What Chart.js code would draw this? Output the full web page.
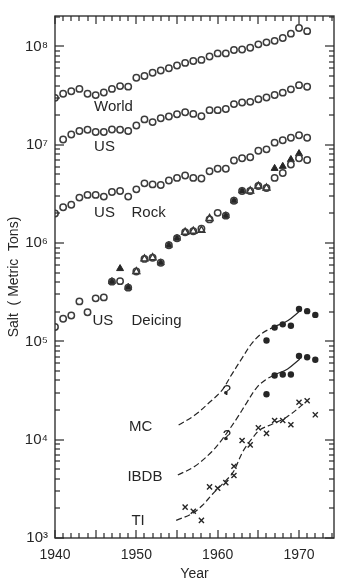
<!DOCTYPE html>
<html>
<head>
<meta charset="utf-8">
<title>Salt use</title>
<script src="https://cdn.jsdelivr.net/npm/chart.js@4"></script>
<style>
  body { margin: 0; background: #fff; }
  #wrap { width: 344px; height: 586px; }
</style>
</head>
<body>
<div id="wrap"><canvas id="saltChart" width="344" height="586"></canvas></div>
<script>
// yearly series, metric tons
const years = [1940, 1941, 1942, 1943, 1944, 1945, 1946, 1947, 1948, 1949,
  1950, 1951, 1952, 1953, 1954, 1955, 1956, 1957, 1958, 1959,
  1960, 1961, 1962, 1963, 1964, 1965, 1966, 1967, 1968, 1969, 1970, 1971];

const worldSalt = [3.0e7, 3.3e7, 3.5e7, 3.7e7, 3.3e7, 3.2e7, 3.4e7, 3.7e7, 3.95e7, 3.9e7,
  4.8e7, 5.0e7, 5.4e7, 5.7e7, 6.0e7, 6.4e7, 6.8e7, 7.1e7, 7.3e7, 7.9e7,
  8.5e7, 8.5e7, 9.2e7, 9.3e7, 9.7e7, 1.05e8, 1.1e8, 1.14e8, 1.22e8, 1.35e8, 1.54e8, 1.43e8];

const usYears = years.slice(1);
const usSalt = [1.13e7, 1.27e7, 1.38e7, 1.42e7, 1.35e7, 1.35e7, 1.43e7, 1.42e7, 1.38e7,
  1.57e7, 1.81e7, 1.70e7, 1.86e7, 1.94e7, 2.04e7, 2.14e7, 2.06e7, 1.95e7, 2.25e7,
  2.25e7, 2.31e7, 2.59e7, 2.69e7, 2.73e7, 2.90e7, 3.02e7, 3.21e7, 3.39e7, 3.66e7, 4.04e7, 3.89e7];

const rockSalt = [2.0e6, 2.31e6, 2.45e6, 2.9e6, 3.09e6, 3.09e6, 2.97e6, 3.31e6, 3.39e6, 2.97e6,
  3.52e6, 4.05e6, 3.95e6, 3.89e6, 4.33e6, 4.6e6, 4.86e6, 4.6e6, 4.54e6, 5.37e6,
  5.71e6, 5.71e6, 6.92e6, 7.3e6, 7.46e6, 8.7e6, 8.98e6, 1.05e7, 1.11e7, 1.18e7, 1.25e7, 1.18e7];

const deicingSalt = [1.40e5, 1.70e5, 1.83e5, 2.55e5, 1.98e5, 2.74e5, 2.80e5, 4.05e5, 4.1e5, 3.52e5,
  5.13e5, 6.9e5, 7.1e5, 6.3e5, 9.5e5, 1.12e6, 1.29e6, 1.32e6, 1.40e6, 1.74e6,
  2.03e6, 1.9e6, 2.69e6, 3.39e6, 3.39e6, 3.8e6, 3.63e6, 4.6e6, 5.16e6, 6.3e6, 7.3e6, 7.0e6];

// other deicing estimates (triangles)
const deicingFilledYears = [1947, 1948, 1949, 1953, 1954, 1955, 1961, 1962, 1963, 1967, 1968, 1969, 1970];
const deicingFilled = [4.07e5, 5.5e5, 3.55e5, 6.3e5, 9.5e5, 1.12e6, 1.9e6, 2.69e6, 3.39e6, 5.75e6, 6.03e6, 7.08e6, 8.13e6];
const deicingOpenYears = [1950, 1951, 1952, 1956, 1957, 1958, 1959, 1964, 1965, 1966];
const deicingOpen = [5.13e5, 6.9e5, 7.1e5, 1.29e6, 1.32e6, 1.35e6, 1.78e6, 3.39e6, 3.8e6, 3.63e6];

// regional deicing
const mcYears = [1961, 1966, 1967, 1968, 1969, 1970, 1971, 1972];
const mcSalt = [3.0e4, 1.02e5, 1.38e5, 1.49e5, 1.44e5, 2.14e5, 2.03e5, 1.86e5];
const ibdbYears = [1961, 1966, 1967, 1968, 1969, 1970, 1971, 1972];
const ibdbSalt = [1.03e4, 2.9e4, 4.5e4, 4.6e4, 4.6e4, 7.1e4, 6.9e4, 6.5e4];
const tiYears = [1956, 1957, 1958, 1959, 1960, 1961, 1962, 1962, 1963, 1964, 1965, 1966, 1967, 1968, 1969, 1970, 1971, 1972];
const tiSalt = [2.06e3, 1.87e3, 1.51e3, 3.31e3, 3.21e3, 3.66e3, 4.33e3, 5.37e3, 9.8e3, 8.85e3,
  1.32e4, 1.16e4, 1.57e4, 1.57e4, 1.42e4, 2.40e4, 2.49e4, 1.79e4];

// hand-drawn trend curves
const mcCurveYears = [1955.2, 1957.2, 1959, 1960.5, 1961.7, 1963, 1964.2, 1965.4, 1967, 1968.6, 1970.1];
const mcCurve = [1.41e4, 1.78e4, 2.40e4, 3.16e4, 4.57e4, 6.76e4, 9.55e4, 1.20e5, 1.41e5, 1.62e5, 2.04e5];
const ibdbCurveYears = [1955.1, 1957.2, 1959.3, 1960.6, 1962.3, 1963.6, 1964.8, 1965.9, 1967, 1968.6, 1970.1];
const ibdbCurve = [4.37e3, 5.37e3, 7.59e3, 1.02e4, 1.62e4, 2.40e4, 3.39e4, 4.07e4, 4.57e4, 5.25e4, 6.61e4];
const tiCurveYears = [1954.9, 1956.9, 1958.1, 1959.4, 1960.6, 1961.9, 1963.1, 1964.2, 1965.2, 1966.8, 1968.5, 1970.5];
const tiCurve = [1.51e3, 1.78e3, 2.14e3, 2.82e3, 3.55e3, 4.68e3, 7.59e3, 1.02e4, 1.26e4, 1.45e4, 1.70e4, 2.29e4];

const xTickValues = [1940, 1950, 1960, 1970];
const yTickValues = [1e3, 1e4, 1e5, 1e6, 1e7, 1e8];
const supers = { 3: '\u00B3', 4: '\u2074', 5: '\u2075', 6: '\u2076', 7: '\u2077', 8: '\u2078' };

const seriesLabels = [
  { text: 'World', year: 1944.8, value: 2.45e7 },
  { text: 'US', year: 1944.8, value: 9.5e6 },
  { text: 'US', year: 1944.8, value: 2.04e6 },
  { text: 'Rock', year: 1949.4, value: 2.04e6 },
  { text: 'US', year: 1944.6, value: 1.62e5 },
  { text: 'Deicing', year: 1949.4, value: 1.62e5 },
  { text: 'MC', year: 1949.1, value: 1.35e4 },
  { text: 'IBDB', year: 1948.9, value: 4.17e3 },
  { text: 'TI', year: 1949.4, value: 1.48e3 }
];
// doubtful points get a question mark
const doubtful = [
  { year: 1961, value: 3.0e4 },
  { year: 1961, value: 1.03e4 }
];

const INK = '#262626';
const FONT = '"Liberation Sans", Arial, Helvetica, sans-serif';

function pts(xs, ys) {
  return xs.map((x, i) => ({ x: x, y: ys[i] }));
}

function circles(xs, ys) {
  return {
    data: pts(xs, ys), showLine: false,
    pointStyle: 'circle', pointRadius: 3.2, borderWidth: 1.5,
    borderColor: '#3c3c3c', backgroundColor: 'rgba(0,0,0,0)'
  };
}

function curve(xs, ys, solidFrom) {
  return {
    type: 'line', data: pts(xs, ys), showLine: true,
    pointRadius: 0, borderWidth: 1.2, borderColor: INK, tension: 0.35,
    borderDash: [],
    segment: { borderDash: ctx => ctx.p0.parsed.x < solidFrom ? [6, 3] : undefined }
  };
}

function dots(xs, ys) {
  return {
    data: pts(xs, ys), showLine: false,
    pointStyle: 'circle', borderWidth: 0, borderColor: INK, backgroundColor: INK,
    pointRadius: ctx => (ctx.raw && ctx.raw.x === 1961) ? 1.8 : 3.2
  };
}

// frame, inward ticks on all four sides, text labels
const decorations = {
  id: 'decorations',
  afterDraw(chart) {
    const ctx = chart.ctx;
    const a = chart.chartArea;
    const xs = chart.scales.x;
    const ys = chart.scales.y;
    const w = a.right - a.left;
    const h = a.bottom - a.top;
    ctx.save();
    ctx.setLineDash([]);
    ctx.strokeStyle = '#333';
    ctx.lineWidth = 1.4;
    ctx.strokeRect(a.left, a.top, w, h);

    // ticks as thin filled bars
    ctx.fillStyle = '#2a2a2a';
    for (let yr = 1940; yr <= 1974; yr++) {
      const px = Math.round(xs.getPixelForValue(yr));
      const len = yr % 5 === 0 ? 8 : 5;
      ctx.fillRect(px - 0.6, a.bottom - len, 1.2, len);
      ctx.fillRect(px - 0.6, a.top, 1.2, len);
    }
    for (let e = 3; e <= 8; e++) {
      for (let m = 1; m <= 9; m++) {
        const v = m * Math.pow(10, e);
        if (v > ys.max) continue;
        const py = Math.round(ys.getPixelForValue(v));
        const len = m === 1 ? 9 : 5;
        ctx.fillRect(a.left, py - 0.6, len, 1.2);
        ctx.fillRect(a.right - len, py - 0.6, len, 1.2);
      }
    }

    ctx.fillStyle = INK;
    ctx.font = '15px ' + FONT;
    ctx.textAlign = 'left';
    ctx.textBaseline = 'middle';
    seriesLabels.forEach(l => {
      ctx.fillText(l.text, xs.getPixelForValue(l.year), ys.getPixelForValue(l.value));
    });

    ctx.textAlign = 'center';
    ctx.textBaseline = 'alphabetic';
    doubtful.forEach(d => {
      ctx.fillText('?', xs.getPixelForValue(d.year) + 1, ys.getPixelForValue(d.value) + 2);
    });
    ctx.restore();
  }
};

new Chart(document.getElementById('saltChart'), {
  type: 'scatter',
  data: {
    datasets: [
      circles(years, worldSalt),
      circles(usYears, usSalt),
      circles(years, rockSalt),
      circles(years, deicingSalt),
      {
        data: pts(deicingFilledYears, deicingFilled), showLine: false,
        pointStyle: 'triangle', pointRadius: 4, borderWidth: 1,
        borderColor: INK, backgroundColor: INK
      },
      {
        data: pts(deicingOpenYears, deicingOpen), showLine: false,
        pointStyle: 'triangle', pointRadius: 4, borderWidth: 1.4,
        borderColor: '#333', backgroundColor: 'rgba(0,0,0,0)'
      },
      curve(mcCurveYears, mcCurve, 1967),
      curve(ibdbCurveYears, ibdbCurve, 1967),
      curve(tiCurveYears, tiCurve, 1980),
      dots(mcYears, mcSalt),
      dots(ibdbYears, ibdbSalt),
      {
        data: pts(tiYears, tiSalt), showLine: false,
        pointStyle: 'crossRot', pointRadius: 3.6, borderWidth: 1.4,
        borderColor: INK
      }
    ]
  },
  options: {
    responsive: false,
    animation: false,
    layout: { padding: { top: 7, right: 10, left: 0, bottom: 0 } },
    plugins: {
      legend: { display: false },
      tooltip: { enabled: false }
    },
    scales: {
      x: {
        type: 'linear',
        min: 1940,
        max: 1974.3,
        grid: { display: false, drawTicks: false },
        border: { display: false },
        afterBuildTicks: scale => { scale.ticks = xTickValues.map(v => ({ value: v })); },
        afterFit: scale => { scale.height = 48; },
        ticks: {
          color: INK,
          padding: 9,
          maxRotation: 0,
          font: { family: FONT, size: 14 },
          callback: v => String(v)
        },
        title: {
          display: true,
          text: 'Year',
          color: INK,
          padding: { top: 2, bottom: 3 },
          font: { family: FONT, size: 14 }
        }
      },
      y: {
        type: 'logarithmic',
        min: 1e3,
        max: 2.04e8,
        grid: { display: false, drawTicks: false },
        border: { display: false },
        afterBuildTicks: scale => { scale.ticks = yTickValues.map(v => ({ value: v })); },
        afterFit: scale => { scale.width = 55; },
        ticks: {
          color: INK,
          padding: 7,
          font: { family: FONT, size: 15 },
          callback: v => '10' + supers[Math.round(Math.log10(v))]
        },
        title: {
          display: true,
          text: 'Salt  ( Metric  Tons)',
          color: INK,
          padding: { top: 6, bottom: 0 },
          font: { family: FONT, size: 14 }
        }
      }
    }
  },
  plugins: [decorations]
});
</script>
</body>
</html>
